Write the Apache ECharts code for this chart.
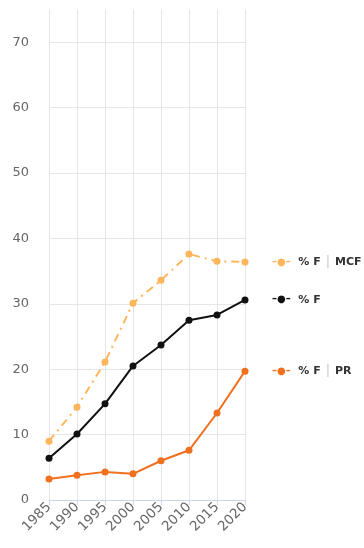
<!DOCTYPE html>
<html>
<head>
<meta charset="utf-8">
<script src="https://cdn.jsdelivr.net/npm/echarts@6/dist/echarts.min.js"></script>
<style>
  html, body { margin: 0; padding: 0; background: #fff; }
  #chart { width: 364px; height: 548px; }
</style>
</head>
<body>
<div id="chart"></div>
<script>
var years = ['1985', '1990', '1995', '2000', '2005', '2010', '2015', '2020'];
var mcf = [9.0, 14.2, 21.1, 30.1, 33.6, 37.6, 36.5, 36.4];
var f = [6.4, 10.1, 14.7, 20.5, 23.7, 27.5, 28.3, 30.6];
var pr = [3.2, 3.8, 4.3, 4.0, 6.0, 7.6, 13.3, 19.7];

var myChart = echarts.init(document.getElementById('chart'), null, { renderer: 'canvas' });

function endLab(parts, color) {
  return {
    show: true,
    distance: 27,
    formatter: function () { return parts; },
    rich: {
      i: { fontSize: 10, fontWeight: 'bold', color: color },
      n: { fontSize: 11, fontWeight: 'bold', color: '#333', fontFamily: 'DejaVu Sans' },
      s: { fontSize: 11, color: '#bbb', fontFamily: 'DejaVu Sans' }
    }
  };
}

var option = {
  animation: false,
  textStyle: { fontFamily: 'DejaVu Sans' },
  grid: { left: 49, right: 119, top: 9.5, bottom: 48 },
  xAxis: {
    type: 'category',
    data: years,
    boundaryGap: false,
    axisLine: { lineStyle: { color: '#ccd6eb' } },
    axisTick: { show: true, length: 5, lineStyle: { color: '#ccd6eb' } },
    axisLabel: { rotate: 45, color: '#666', fontSize: 13.5, margin: 5 },
    splitLine: { show: true, lineStyle: { color: '#e6e6e6' } }
  },
  yAxis: {
    type: 'value',
    min: 0,
    max: 75,
    interval: 10,
    axisLine: { show: false },
    axisTick: { show: false },
    axisLabel: { color: '#666', fontSize: 13, margin: 20, showMaxLabel: false },
    splitLine: {
      lineStyle: {
        color: ['#e6e6e6', '#e6e6e6', '#e6e6e6', '#e6e6e6', '#e6e6e6', '#e6e6e6', '#e6e6e6', '#e6e6e6', 'rgba(0,0,0,0)']
      }
    }
  },
  series: [
    {
      name: '% F | MCF',
      type: 'line',
      data: mcf,
      symbol: 'circle',
      symbolSize: 7,
      color: '#ffb55c',
      lineStyle: { width: 2, type: [8, 5, 2, 5] },
      endLabel: endLab('{i|\u2013\u25CF\u2013}  {n|% F} {s|\u2502} {n|MCF}', '#ffb55c')
    },
    {
      name: '% F',
      type: 'line',
      data: f,
      symbol: 'circle',
      symbolSize: 7,
      color: '#111',
      lineStyle: { width: 2 },
      endLabel: endLab('{i|\u2013\u25CF\u2013}  {n|% F}', '#111')
    },
    {
      name: '% F | PR',
      type: 'line',
      data: pr,
      symbol: 'circle',
      symbolSize: 7,
      color: '#f07020',
      lineStyle: { width: 2 },
      endLabel: endLab('{i|\u2013\u25CF\u2013}  {n|% F} {s|\u2502} {n|PR}', '#f07020')
    }
  ]
};

myChart.setOption(option);
window.addEventListener('resize', myChart.resize);
</script>
</body>
</html>
